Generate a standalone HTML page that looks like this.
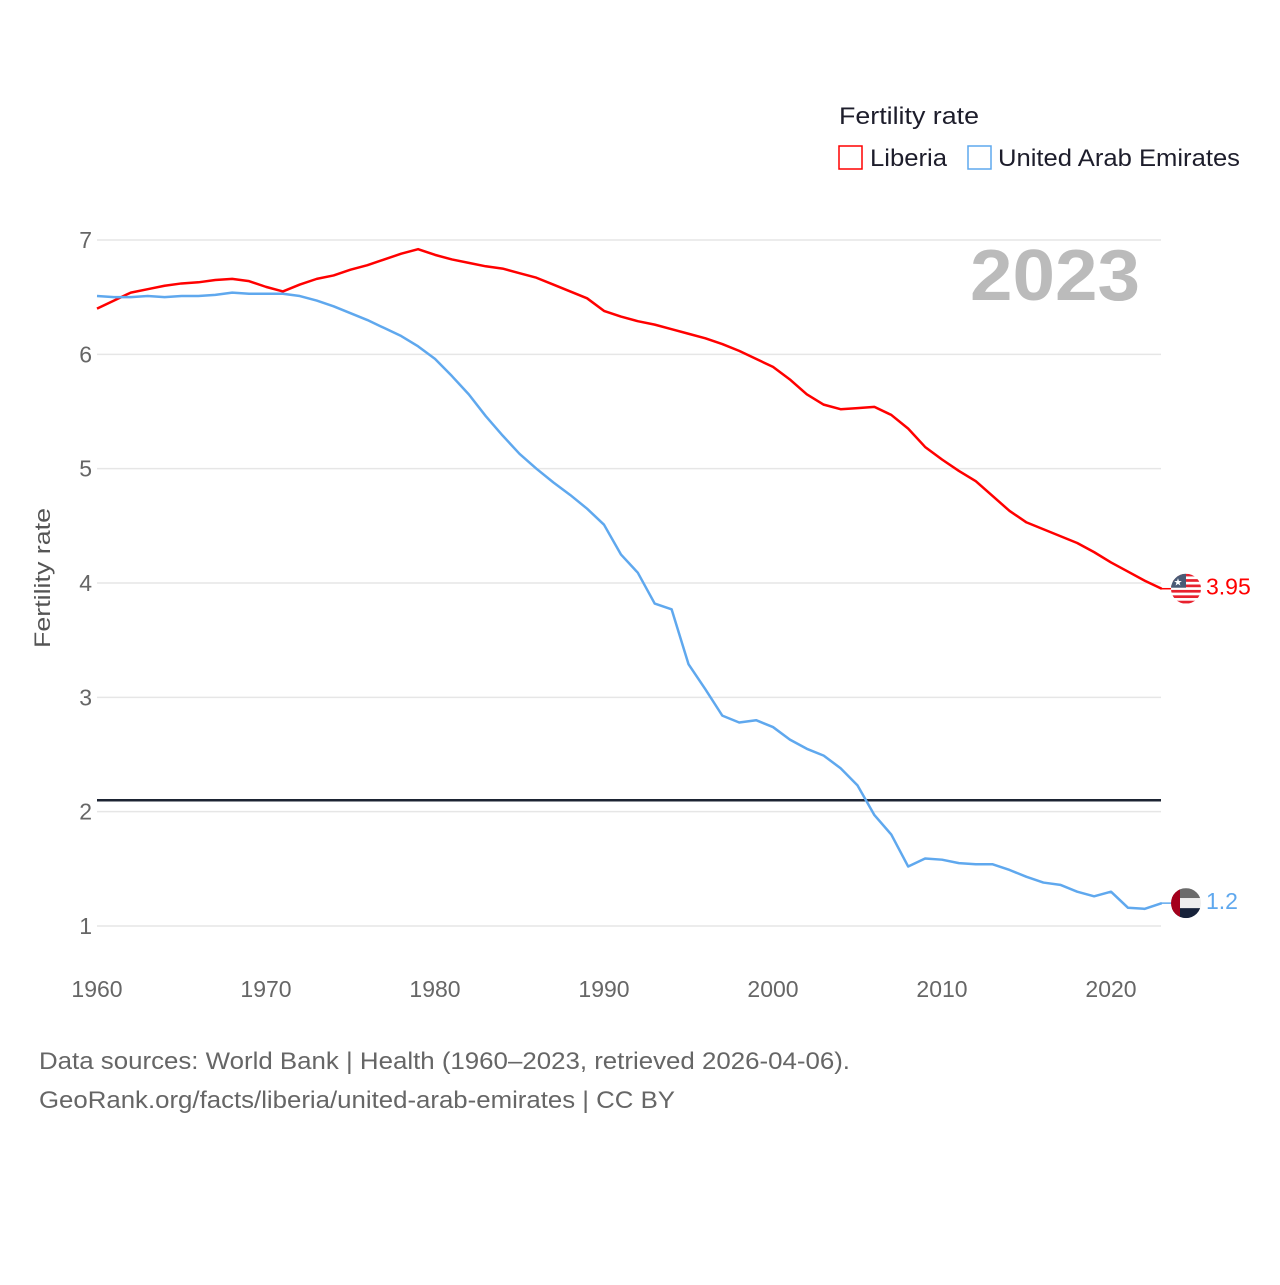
<!DOCTYPE html>
<html><head><meta charset="utf-8"><style>
body{margin:0;background:#fff;width:1280px;height:1280px;overflow:hidden;font-family:"Liberation Sans",sans-serif}
</style></head><body>
<svg id="chart" width="1280" height="1280" xmlns="http://www.w3.org/2000/svg" style="font-family:'Liberation Sans',sans-serif">
<text x="839" y="124" font-size="24" fill="#1d1d2b" textLength="140" lengthAdjust="spacingAndGlyphs">Fertility rate</text>
<g><rect x="839" y="146" width="23" height="23" fill="none" stroke="#ff0000" stroke-width="1.5"/><text x="870" y="166" font-size="24" fill="#1d1d2b" textLength="77" lengthAdjust="spacingAndGlyphs">Liberia</text></g>
<g><rect x="968" y="146" width="23" height="23" fill="none" stroke="#5fa8ee" stroke-width="1.5"/><text x="998" y="166" font-size="24" fill="#1d1d2b" textLength="242" lengthAdjust="spacingAndGlyphs">United Arab Emirates</text></g>
<text x="970" y="300" font-size="72" font-weight="bold" fill="#bbbbbb" textLength="170" lengthAdjust="spacingAndGlyphs">2023</text>
<text transform="translate(50,578) rotate(-90)" font-size="22" fill="#555" text-anchor="middle" textLength="140" lengthAdjust="spacingAndGlyphs">Fertility rate</text>
<g id="grid"></g><g id="lines"></g>
<text x="39" y="1069" font-size="24" fill="#666" textLength="811" lengthAdjust="spacingAndGlyphs">Data sources: World Bank | Health (1960–2023, retrieved 2026-04-06).</text>
<text x="39" y="1108" font-size="24" fill="#666" textLength="636" lengthAdjust="spacingAndGlyphs">GeoRank.org/facts/liberia/united-arab-emirates | CC BY</text>
</svg>
<script>
const years=[];for(let y=1960;y<=2023;y++)years.push(y);
const liberia=[6.40,6.47,6.54,6.57,6.60,6.62,6.63,6.65,6.66,6.64,6.59,6.55,6.61,6.66,6.69,6.74,6.78,6.83,6.88,6.92,6.87,6.83,6.80,6.77,6.75,6.71,6.67,6.61,6.55,6.49,6.38,6.33,6.29,6.26,6.22,6.18,6.14,6.09,6.03,5.96,5.89,5.78,5.65,5.56,5.52,5.53,5.54,5.47,5.35,5.19,5.08,4.98,4.89,4.76,4.63,4.53,4.47,4.41,4.35,4.27,4.18,4.10,4.02,3.95];
const uae=[6.51,6.50,6.50,6.51,6.50,6.51,6.51,6.52,6.54,6.53,6.53,6.53,6.51,6.47,6.42,6.36,6.30,6.23,6.16,6.07,5.96,5.81,5.65,5.46,5.29,5.13,5.00,4.88,4.77,4.65,4.51,4.25,4.09,3.82,3.77,3.29,3.07,2.84,2.78,2.80,2.74,2.63,2.55,2.49,2.38,2.23,1.97,1.80,1.52,1.59,1.58,1.55,1.54,1.54,1.49,1.43,1.38,1.36,1.30,1.26,1.30,1.16,1.15,1.20];
const yTicks=[1,2,3,4,5,6,7];
const xTicks=[1960,1970,1980,1990,2000,2010,2020];
const replacement=2.1;
const NS="http://www.w3.org/2000/svg";
const X=v=>97+(v-1960)*(1111-97)/60;
const Y=v=>240+(7-v)*(926-240)/6;
function mk(t,a,p){const e=document.createElementNS(NS,t);for(const k in a)e.setAttribute(k,a[k]);p.appendChild(e);return e;}
const grid=document.getElementById('grid'),lines=document.getElementById('lines');
yTicks.forEach(v=>{
 const l=mk('line',{x1:97,x2:1161,y1:Y(v),y2:Y(v),stroke:'#e6e6e6','stroke-width':1.5},grid);
 
 
 const t=mk('text',{x:92,y:Y(v)+8,'font-size':23,fill:'#666','text-anchor':'end'},grid);t.textContent=v;
 
 
});
xTicks.forEach(v=>{
 const t=mk('text',{x:X(v),y:997,'font-size':23,fill:'#666','text-anchor':'middle'},grid);t.textContent=v;
 
 
});
const rl=mk('line',{x1:97,x2:1161,y1:Y(replacement),y2:Y(replacement),stroke:'#1d2433','stroke-width':2.5},lines);


function series(vals,color,name,label){
 const p=mk('polyline',{points:vals.map((v,i)=>X(years[i])+','+Y(v)).join(' '),fill:'none',stroke:color,'stroke-width':2.5,'stroke-linejoin':'round'},lines);
 
 
 const last=vals[vals.length-1],ly=Y(last);
 mk('line',{x1:1161,x2:1172,y1:ly,y2:ly,stroke:color,'stroke-width':1.5},lines);
 const t=mk('text',{x:1206,y:ly+6,'font-size':23,fill:color},lines);t.textContent=label;
 
 
 return ly;
}
const ly1=series(liberia,'#ff0000','liberia','3.95');
const ly2=series(uae,'#5fa8ee','uae','1.2');
const f1=mk('g',{},lines);


const cp1=mk('clipPath',{id:'c1'},f1);mk('circle',{cx:1186,cy:ly1,r:15},cp1);
const g1=mk('g',{'clip-path':'url(#c1)'},f1);
mk('rect',{x:1171,y:ly1-15,width:30,height:30,fill:'#fff'},g1);
for(let i=0;i<6;i++)mk('rect',{x:1171,y:ly1-15+i*5.4,width:30,height:2.7,fill:'#e8212e'},g1);
mk('rect',{x:1171,y:ly1-15,width:15,height:14,fill:'#4a5a75'},g1);
mk('text',{x:1178,y:ly1-3,'font-size':10,fill:'#fff','text-anchor':'middle'},g1).textContent='★';
const f2=mk('g',{},lines);


const cp=mk('clipPath',{id:'c2'},f2);mk('circle',{cx:1186,cy:ly2,r:15},cp);
const g2=mk('g',{'clip-path':'url(#c2)'},f2);
mk('rect',{x:1171,y:ly2-15,width:30,height:10,fill:'#6b6b6b'},g2);
mk('rect',{x:1171,y:ly2-5,width:30,height:10,fill:'#eeeeee'},g2);
mk('rect',{x:1171,y:ly2+5,width:30,height:10,fill:'#17223a'},g2);
mk('rect',{x:1171,y:ly2-15,width:9,height:30,fill:'#a4001c'},g2);
</script>
</body></html>
